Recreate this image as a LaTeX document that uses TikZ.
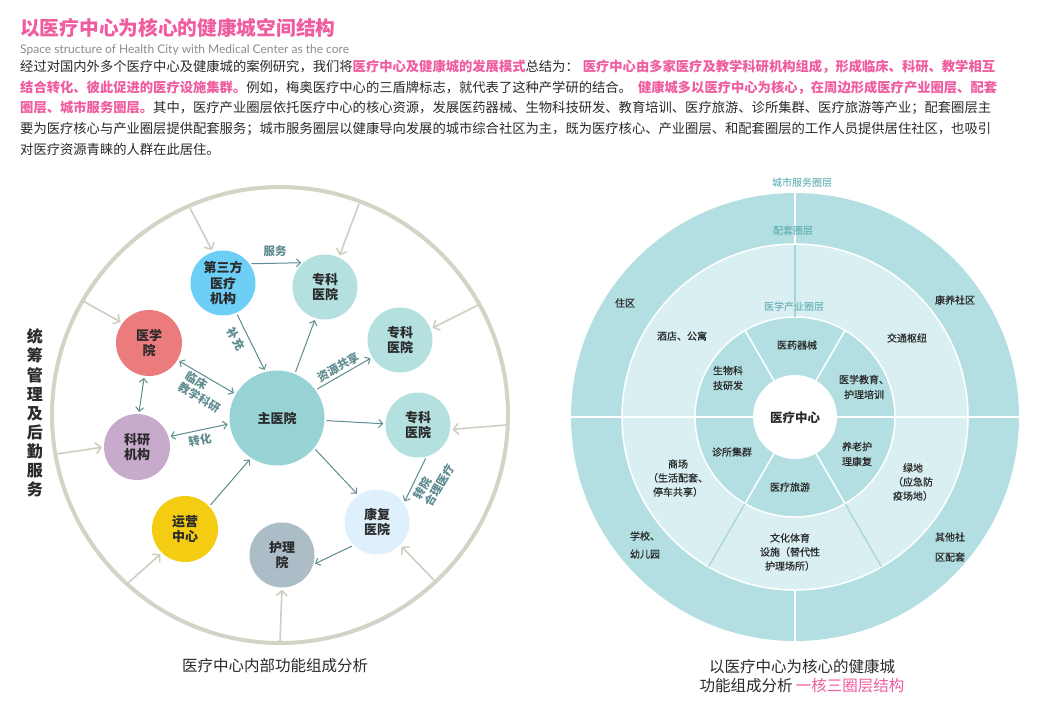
\documentclass[tikz,border=0pt]{standalone}
\usepackage{fontspec}
\setmainfont{Noto Sans CJK SC}
\newfontfamily\latinf{Lato}
\newfontfamily\cjkmed{Noto Sans CJK SC}[FakeBold=0.6]
\usetikzlibrary{arrows.meta}
\definecolor{pinkt}{HTML}{EF5DA0}
\definecolor{subgray}{HTML}{8C8C8C}
\definecolor{txt}{HTML}{2A2A2A}
\definecolor{ringc}{HTML}{D5D2C6}
\definecolor{grayarr}{HTML}{D0CEC2}
\definecolor{arrowc}{HTML}{5E8C90}
\definecolor{c3rd}{HTML}{6DCFF6}
\definecolor{czk}{HTML}{B4E0E0}
\definecolor{cyxy}{HTML}{EC7B7D}
\definecolor{cmain}{HTML}{97D3D5}
\definecolor{cky}{HTML}{C8AACD}
\definecolor{cyy}{HTML}{F4CC12}
\definecolor{chl}{HTML}{ACBDC8}
\definecolor{ckf}{HTML}{DEF0FC}
\definecolor{outerc}{HTML}{B4DFE2}
\definecolor{midc}{HTML}{DAEFF1}
\definecolor{linec}{HTML}{A3D5D9}
\definecolor{ringlab}{HTML}{4FA5AC}
\newcommand{\pk}[1]{{\color{pinkt}\bfseries #1}}
\newcommand{\paraset}{\fontsize{13.3}{16}\selectfont\XeTeXlinebreaklocale "zh"\XeTeXlinebreakskip=0pt plus 3pt\relax}
\tikzset{
  para/.style={anchor=west, inner sep=0pt, text=txt, font=\paraset},
  circ/.style={circle, minimum size=65pt, inner sep=0pt, align=center, text=txt,
    font=\fontsize{13}{15.5}\selectfont\bfseries},
  tarr/.style={draw=arrowc, line width=1pt, -{Straight Barb[length=4pt,width=8pt]}, shorten >=2pt, shorten <=2pt},
  tarr2/.style={draw=arrowc, line width=1pt, {Straight Barb[length=4pt,width=8pt]}-{Straight Barb[length=4pt,width=8pt]}, shorten >=2pt, shorten <=2pt},
  garr/.style={draw=grayarr, line width=1.6pt, -{Straight Barb[length=5pt,width=11pt]}, shorten >=2pt},
  alab/.style={font=\fontsize{11.5}{13}\selectfont\bfseries, text=arrowc, inner sep=0pt, align=center},
  rlab/.style={font=\cjkmed\fontsize{10}{14}\selectfont, text=txt, inner sep=0pt, align=center},
  ringl/.style={font=\fontsize{10}{12}\selectfont, text=ringlab, inner sep=0pt},
  captxt/.style={font=\fontsize{15.5}{19}\selectfont, text=txt, inner sep=0pt, align=center},
}
\begin{document}
\begin{tikzpicture}[x=1pt,y=-1pt]
\fill[white] (0,0) rectangle (1054,707);
\useasboundingbox (0,0) rectangle (1054,707);

% ---------- header ----------
\node[anchor=west, inner sep=0pt, text=pinkt, font=\fontsize{19.7}{22}\selectfont\bfseries] (title) at (20,28) {以医疗中心为核心的健康城空间结构};
\node[anchor=west, inner sep=0pt, text=subgray, font=\latinf\fontsize{12}{14}\selectfont] (sub) at (20,50) {Space structure of Health City with Medical Center as the core};
\node[para] (l1) at (20,67) {\hbox to 1000pt{经过对国内外多个医疗中心及健康城的案例研究，我们将\pk{医疗中心及健康城的发展模式}总结为：\hspace{4pt}\pk{医疗中心由多家医疗及教学科研机构组成，形成临床、科研、教学相互}}};
\node[para] (l2) at (20,87.5) {\hbox to 1000pt{\pk{结合转化、彼此促进的医疗设施集群。}例如，梅奥医疗中心的三盾牌标志，就代表了这种产学研的结合。\hspace{6pt}\pk{健康城多以医疗中心为核心，在周边形成医疗产业圈层、配套}}};
\node[para] (l3) at (20,108) {\hbox to 1000pt{\pk{圈层、城市服务圈层。}其中，医疗产业圈层依托医疗中心的核心资源，发展医药器械、生物科技研发、教育培训、医疗旅游、诊所集群、医疗旅游等产业；配套圈层主}};
\node[para] (l4) at (20,128.5) {\hbox to 1000pt{要为医疗核心与产业圈层提供配套服务；城市服务圈层以健康导向发展的城市综合社区为主，既为医疗核心、产业圈层、和配套圈层的工作人员提供居住社区，也吸引}};
\node[para] (l5) at (20,149) {对医疗资源青睐的人群在此居住。};

% ---------- left diagram ----------
\draw[ringc, line width=4pt] (280,415) circle[radius=228pt];

\node[circ, fill=c3rd] (n3) at (223,283) {第三方\\医疗\\机构};
\node[circ, fill=czk] (zk1) at (325,287) {专科\\医院};
\node[circ, fill=czk] (zk2) at (400,340) {专科\\医院};
\node[circ, fill=czk] (zk3) at (418,425) {专科\\医院};
\node[circ, fill=cyxy, minimum size=66pt] (yxy) at (149,343) {医学\\院};
\node[circ, fill=cmain, minimum size=95pt] (main) at (277,418) {主医院};
\node[circ, fill=cky, minimum size=66pt] (ky) at (137,447) {科研\\机构};
\node[circ, fill=cyy, minimum size=66pt] (yy) at (185,529) {运营\\中心};
\node[circ, fill=chl] (hl) at (282,555) {护理\\院};
\node[circ, fill=ckf] (kf) at (377,522) {康复\\医院};

% teal connectors
\draw[tarr] (n3.36) -- (zk1.132);
\draw[tarr] (n3.-66) -- (main.104);
\draw[tarr] (main.68) -- (zk1.-107);
\draw[tarr] (main.36) -- (zk2.212);
\draw[tarr2] (yxy.-31) -- (main.150);
\draw[tarr2] (yxy.-98) -- (ky.87);
\draw[tarr2] (ky.18) -- (main.187);
\draw[tarr] (main.-3) -- (zk3.178);
\draw[tarr] (yy.43) -- (main.237);
\draw[tarr] (main.-39) -- (kf.125);
\draw[tarr] (zk3.-75) -- (kf.35);
\draw[tarr] (kf.225) -- (hl.-17);

% connector labels
\node[alab] (lb1) at (275,251) {服务};
\node[alab, rotate=-62] (lb2) at (236,339) {补充};
\node[alab, rotate=29] (lb3) at (338,367) {资源共享};
\node[alab, rotate=-30, align=left] (lb4) at (203,392) {临床\\教学科研};
\node[alab, rotate=10] (lb5) at (200,440) {转化};
\node[alab, rotate=60, align=left] (lb6) at (434,482) {转院\\合理医疗};

% gray arrows from the ring
\coordinate (g1) at (190,208);
\coordinate (g2) at (359,204);
\coordinate (g3) at (83,301);
\coordinate (g4) at (478,305);
\coordinate (g5) at (506,425);
\coordinate (g6) at (57,454);
\coordinate (g7) at (128,583);
\coordinate (g8) at (280,641);
\coordinate (g9) at (434,580);
\draw[garr] (g1) -- (n3.108);
\draw[garr] (g2) -- (zk1.65);
\draw[garr] (g3) -- (yxy.143);
\draw[garr] (g4) -- (zk2.20);
\draw[garr] (g5) -- (zk3.-8);
\draw[garr] (g6) -- (ky.180);
\draw[garr] (g7) -- (yy.226);
\draw[garr] (g8) -- (hl.-90);
\draw[garr] (g9) -- (kf.-45);

\node[font=\fontsize{16}{19.1}\selectfont\bfseries, text=txt, align=center, inner sep=0pt] (side) at (35,413) {统\\筹\\管\\理\\及\\后\\勤\\服\\务};
\node[captxt] (capl) at (275,666) {医疗中心内部功能组成分析};

% ---------- right diagram ----------
\fill[outerc] (795,417) circle[radius=224pt];
\draw[white, line width=1.5pt, fill=midc] (795,417) circle[radius=173pt];
\draw[white, line width=1.5pt, fill=outerc] (795,417) circle[radius=100pt];
\fill[white] (795,417) circle[radius=42pt];
\draw[white, line width=1.5pt] (571,417) -- (1019,417);
\draw[white, line width=1.5pt] (795,193) -- (795,244) (795,590) -- (795,641);
\draw[linec, line width=1.2pt] (795,244.5) -- (795,316.5);
\draw[linec, line width=1.2pt] (745,503.6) -- (708.5,566.8) (845,503.6) -- (881.5,566.8);
\draw[white, line width=1.5pt] (816,380.6) -- (845,330.4) (774,380.6) -- (745,330.4)
  (774,453.4) -- (745,503.6) (816,453.4) -- (845,503.6);

\node[ringl] (r1) at (802,183) {城市服务圈层};
\node[ringl] (r2) at (793,231) {配套圈层};
\node[ringl] (r3) at (794,307) {医学产业圈层};

\node[font=\fontsize{12.5}{14}\selectfont\bfseries, text=txt, inner sep=0pt] (core) at (795,418) {医疗中心};
\node[rlab] (a1) at (797,345) {医药器械};
\node[rlab, font=\cjkmed\fontsize{10}{15}\selectfont] (a2) at (728,378) {生物科\\技研发};
\node[rlab, font=\cjkmed\fontsize{10}{15}\selectfont] (a3) at (864,387) {医学教育、\\护理培训};
\node[rlab] (a4) at (732,452) {诊所集群};
\node[rlab, font=\cjkmed\fontsize{10}{15}\selectfont] (a5) at (857,454) {养老护\\理康复};
\node[rlab] (a6) at (790,487) {医疗旅游};
\node[rlab] (b1) at (682,336) {酒店、公寓};
\node[rlab] (b2) at (907,338) {交通枢纽};
\node[rlab] (b3) at (678,478) {商场\\（生活配套、\\停车共享）};
\node[rlab] (b4) at (790,552) {文化体育\\设施（替代性\\护理场所）};
\node[rlab] (b5) at (913,482) {绿地\\（应急防\\疫场地）};
\node[rlab] (c1) at (625,303) {住区};
\node[rlab] (c2) at (955,300) {康养社区};
\node[rlab, font=\cjkmed\fontsize{10}{18}\selectfont] (c3) at (645,545) {学校、\\幼儿园};
\node[rlab, font=\cjkmed\fontsize{10}{20}\selectfont] (c4) at (950,547) {其他社\\区配套};

\node[captxt] (capr1) at (802,667) {以医疗中心为核心的健康城};
\node[captxt] (capr2) at (802,686) {功能组成分析 {\color{pinkt}一核三圈层结构}};
\end{tikzpicture}
\end{document}
